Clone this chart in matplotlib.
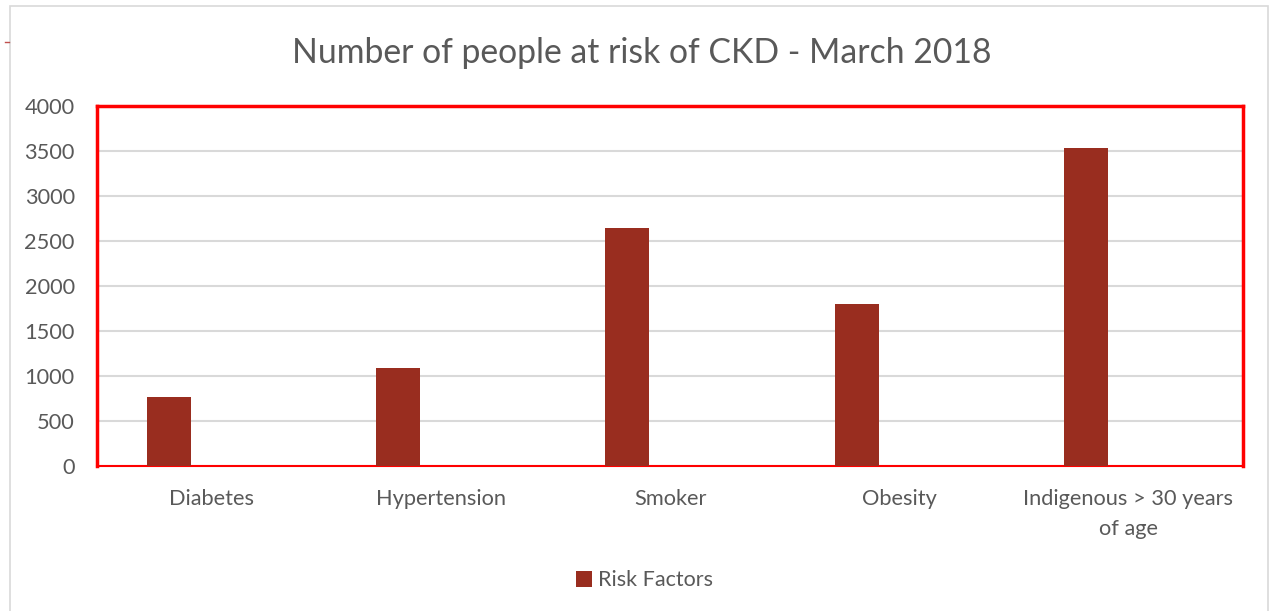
import matplotlib.pyplot as plt
from matplotlib.patches import Rectangle
import numpy as np

plt.rcParams['font.family'] = ['Lato', 'DejaVu Sans']

categories = ['Diabetes', 'Hypertension', 'Smoker', 'Obesity', 'Indigenous > 30 years\nof age']
risk_factors = [770, 1090, 2650, 1800, 3530]
yticks = [0, 500, 1000, 1500, 2000, 2500, 3000, 3500, 4000]

bar_color = '#992d1f'
text_color = '#595959'

fig = plt.figure(figsize=(12.71, 6.11), dpi=100)
ax = fig.add_axes([0.0763, 0.2373, 0.9017, 0.5892])

x = np.arange(len(categories))
ax.bar(x - 0.186, risk_factors, width=0.192, color=bar_color, label='Risk Factors', zorder=3)

ax.set_xlim(-0.5, len(categories) - 0.5)
ax.set_ylim(0, 4000)
ax.set_yticks(yticks)
ax.set_xticks(x)
ax.set_xticklabels(categories, linespacing=1.6)
ax.tick_params(axis='both', length=0, labelsize=15.7, colors=text_color)
ax.tick_params(axis='x', pad=16.5)
ax.tick_params(axis='y', pad=16)
ax.yaxis.grid(True, color='#d9d9d9', linewidth=1.5, zorder=0)
ax.set_axisbelow(True)

# red frame around the plot area
for side in ['left', 'right', 'top']:
    ax.spines[side].set_color('#ff0000')
    ax.spines[side].set_linewidth(2.5)
ax.spines['bottom'].set_color('#ff0000')
ax.spines['bottom'].set_linewidth(1.5)

fig.suptitle('Number of people at risk of CKD - March 2018', x=0.505, y=0.939,
             fontsize=24.3, color=text_color)

leg = fig.legend(loc='center', bbox_to_anchor=(0.507, 0.05), frameon=False,
                 fontsize=15.5, handlelength=0.75, handleheight=0.75, handletextpad=0.25)
for t in leg.get_texts():
    t.set_color(text_color)

# light grey chart border and stray mark at top left
fig.patches.append(Rectangle((10 / 1271, -0.01), 1258 / 1271, 1 - 6 / 611 + 0.01,
                             transform=fig.transFigure, fill=False,
                             edgecolor='#d9d9d9', linewidth=1.2))
fig.lines.append(plt.Line2D([5 / 1271, 9 / 1271], [1 - 42 / 611, 1 - 42 / 611],
                            transform=fig.transFigure, color='#c0504d', linewidth=1))

fig.savefig('out.png', dpi=100)
